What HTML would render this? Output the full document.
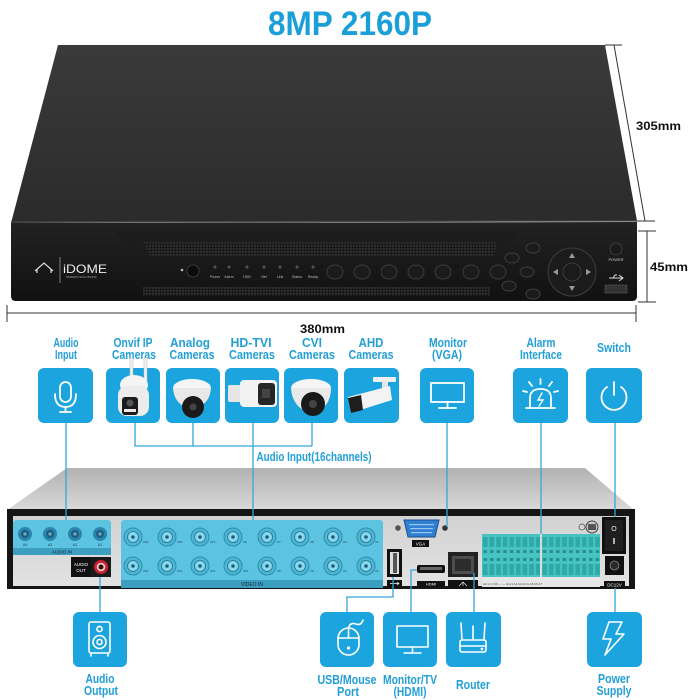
<!DOCTYPE html>
<html><head><meta charset="utf-8"><style>html,body{margin:0;padding:0;background:#fff;}svg{display:block}</style></head><body>
<svg width="700" height="700" viewBox="0 0 700 700" xmlns="http://www.w3.org/2000/svg" font-family="'Liberation Sans', sans-serif">
<defs>
<linearGradient id="gtop" x1="0" y1="0" x2="0" y2="1"><stop offset="0" stop-color="#3a3a3a"/><stop offset="1" stop-color="#2b2b2b"/></linearGradient>
<linearGradient id="gfront" x1="0" y1="0" x2="0" y2="1"><stop offset="0" stop-color="#222"/><stop offset="1" stop-color="#111"/></linearGradient>
<pattern id="vent" width="3" height="3" patternUnits="userSpaceOnUse"><rect width="3" height="3" fill="#2c2c2c"/><rect x="0.6" y="0.6" width="1.6" height="1.6" fill="#070707"/></pattern>
<linearGradient id="rtop" x1="0" y1="0" x2="0" y2="1"><stop offset="0" stop-color="#b2b2b2"/><stop offset="1" stop-color="#d9d9d9"/></linearGradient>
<linearGradient id="rface" x1="0" y1="0" x2="0" y2="1"><stop offset="0" stop-color="#d2d2d2"/><stop offset="1" stop-color="#e2e2e2"/></linearGradient>
<pattern id="tb" x="482" y="534" width="6.6" height="43" patternUnits="userSpaceOnUse">
<rect width="6.6" height="43" fill="#47c4c1"/>
<rect x="1" y="3" width="4.6" height="10" fill="#2fa9a8"/>
<rect x="1.5" y="16" width="3.4" height="3" fill="#25908f"/>
<rect x="1.5" y="24" width="3.4" height="3" fill="#25908f"/>
<rect x="1" y="30" width="4.6" height="11" fill="#2fa9a8"/>
</pattern>
</defs>

<!-- Title -->
<text x="350" y="35" text-anchor="middle" font-size="34" font-weight="bold" fill="#1a9fd8" textLength="164" lengthAdjust="spacingAndGlyphs">8MP 2160P</text>

<!-- FRONT DVR -->
<polygon points="58,45 605,45 637,221 11,223" fill="url(#gtop)"/>
<line x1="11" y1="222" x2="637" y2="221" stroke="#4a4a4a" stroke-width="1.2"/>
<path d="M11,223 L637,222 L637,296 Q637,301 632,301 L16,301 Q11,301 11,296 Z" fill="url(#gfront)"/>
<path d="M112,231 L520,231 L498,252 L140,252 Z" fill="#1c1c1c"/>
<polygon points="143,242 497,242 494,256 150,256" fill="url(#vent)"/>
<rect x="143" y="287" width="347" height="9" fill="url(#vent)"/>
<!-- logo -->
<path d="M35,271 L44,263 L53,271 M37,269 L37,273 M51,269 L51,273" stroke="#ddd" stroke-width="1.2" fill="none"/>
<line x1="60" y1="257" x2="60" y2="283" stroke="#999" stroke-width="0.8"/>
<text x="63" y="273" font-size="12" fill="#eee" textLength="44" lengthAdjust="spacingAndGlyphs">iDOME</text>
<text x="66" y="278" font-size="3" fill="#aaa">SMARTS SOLUTIONS</text>
<!-- IR & leds -->
<circle cx="182" cy="270" r="1.3" fill="#bbb"/>
<circle cx="193" cy="271" r="6" fill="#0b0b0b" stroke="#3a3a3a"/>
<g fill="#555"><circle cx="215" cy="267" r="1.5"/><circle cx="229" cy="267" r="1.5"/><circle cx="247" cy="267" r="1.5"/><circle cx="264" cy="267" r="1.5"/><circle cx="280" cy="267" r="1.5"/><circle cx="297" cy="267" r="1.5"/><circle cx="313" cy="267" r="1.5"/></g>
<g font-size="3.6" fill="#bbb" text-anchor="middle"><text x="215" y="278">Power</text><text x="229" y="278">Alarm</text><text x="247" y="278">HDD</text><text x="264" y="278">Net</text><text x="280" y="278">Link</text><text x="297" y="278">Status</text><text x="313" y="278">Ready</text></g>
<!-- buttons -->
<g fill="#1b1b1b" stroke="#3d3d3d" stroke-width="1">
<ellipse cx="335" cy="272" rx="8" ry="7"/><ellipse cx="362" cy="272" rx="8" ry="7"/><ellipse cx="389" cy="272" rx="8" ry="7"/><ellipse cx="416" cy="272" rx="8" ry="7"/><ellipse cx="443" cy="272" rx="8" ry="7"/><ellipse cx="471" cy="272" rx="8" ry="7"/><ellipse cx="498" cy="272" rx="8" ry="7"/>
<ellipse cx="533" cy="248" rx="7" ry="5"/><ellipse cx="512" cy="258" rx="7" ry="5"/><ellipse cx="527" cy="272" rx="7" ry="5"/><ellipse cx="509" cy="286" rx="7" ry="5"/><ellipse cx="533" cy="294" rx="7" ry="5"/>
<circle cx="572" cy="272" r="24"/>
<circle cx="572" cy="272" r="9"/>
<circle cx="616" cy="249" r="6"/>
</g>
<g fill="#999"><polygon points="572,253 569,258 575,258"/><polygon points="572,291 569,286 575,286"/><polygon points="553,272 558,269 558,275"/><polygon points="591,272 586,269 586,275"/></g>
<text x="616" y="261" font-size="4" fill="#ccc" text-anchor="middle">POWER</text>
<path d="M609,278 L623,278 M619,275 L623,278 L619,281 M613,278 L615,275 L617,275" stroke="#ddd" stroke-width="1" fill="none"/>
<rect x="605" y="285" width="22" height="8" fill="#333" stroke="#555" stroke-width="0.6"/>

<!-- dimension lines -->
<g stroke="#333" stroke-width="1" fill="none">
<line x1="614" y1="45" x2="645" y2="221"/><line x1="605" y1="45" x2="622" y2="45"/><line x1="636" y1="221" x2="655" y2="221"/>
<line x1="647" y1="231" x2="647" y2="302"/><line x1="638" y1="231" x2="656" y2="231"/><line x1="638" y1="302" x2="656" y2="302"/>
<line x1="7" y1="313" x2="636" y2="313"/><line x1="7" y1="305" x2="7" y2="322"/><line x1="636" y1="305" x2="636" y2="322"/>
</g>
<g font-size="12" font-weight="bold" fill="#111">
<text x="636" y="130" textLength="45" lengthAdjust="spacingAndGlyphs">305mm</text>
<text x="650" y="271" textLength="38" lengthAdjust="spacingAndGlyphs">45mm</text>
<text x="300" y="333" textLength="45" lengthAdjust="spacingAndGlyphs">380mm</text>
</g>

<!-- TOP LABELS -->
<g font-size="13" font-weight="bold" fill="#229fd6" text-anchor="middle">
<text x="66" y="347" textLength="25" lengthAdjust="spacingAndGlyphs">Audio</text>
<text x="66" y="359" textLength="22" lengthAdjust="spacingAndGlyphs">Input</text>
<text x="133" y="347" textLength="39" lengthAdjust="spacingAndGlyphs">Onvif IP</text>
<text x="134" y="359" textLength="44" lengthAdjust="spacingAndGlyphs">Cameras</text>
<text x="190" y="347" textLength="40" lengthAdjust="spacingAndGlyphs">Analog</text>
<text x="192" y="359" textLength="45" lengthAdjust="spacingAndGlyphs">Cameras</text>
<text x="251" y="347" textLength="41" lengthAdjust="spacingAndGlyphs">HD-TVI</text>
<text x="252" y="359" textLength="46" lengthAdjust="spacingAndGlyphs">Cameras</text>
<text x="312" y="347" textLength="20" lengthAdjust="spacingAndGlyphs">CVI</text>
<text x="312" y="359" textLength="46" lengthAdjust="spacingAndGlyphs">Cameras</text>
<text x="371" y="347" textLength="25" lengthAdjust="spacingAndGlyphs">AHD</text>
<text x="371" y="359" textLength="45" lengthAdjust="spacingAndGlyphs">Cameras</text>
<text x="448" y="347" textLength="38" lengthAdjust="spacingAndGlyphs">Monitor</text>
<text x="447" y="359" textLength="30" lengthAdjust="spacingAndGlyphs">(VGA)</text>
<text x="541" y="347" textLength="29" lengthAdjust="spacingAndGlyphs">Alarm</text>
<text x="541" y="359" textLength="42" lengthAdjust="spacingAndGlyphs">Interface</text>
<text x="614" y="352" textLength="34" lengthAdjust="spacingAndGlyphs">Switch</text>
<text x="314" y="461" textLength="115" lengthAdjust="spacingAndGlyphs">Audio Input(16channels)</text>
</g>

<!-- TOP BOXES -->
<g fill="#1ba4de">
<rect x="38" y="368" width="55" height="55" rx="6"/>
<rect x="106" y="368" width="54" height="55" rx="6"/>
<rect x="166" y="368" width="54" height="55" rx="6"/>
<rect x="225" y="368" width="54" height="55" rx="6"/>
<rect x="284" y="368" width="54" height="55" rx="6"/>
<rect x="344" y="368" width="55" height="55" rx="6"/>
<rect x="420" y="368" width="54" height="55" rx="6"/>
<rect x="513" y="368" width="55" height="55" rx="6"/>
<rect x="586" y="368" width="56" height="55" rx="6"/>
</g>
<g stroke="#fff" stroke-width="1.8" fill="none" stroke-linecap="round">
<!-- mic -->
<rect x="60" y="382" width="11" height="20" rx="5.5"/>
<path d="M55,394 Q55,407 65.5,407 Q76,407 76,394"/>
<line x1="65.5" y1="407" x2="65.5" y2="412"/><line x1="60" y1="412" x2="71" y2="412"/>
<!-- monitor vga -->
<rect x="431" y="383" width="33" height="19"/>
<line x1="447.5" y1="402" x2="447.5" y2="408"/><line x1="439" y1="408" x2="456" y2="408"/>
<!-- alarm -->
<path d="M530,408 L530,398 Q530,389 540.5,389 Q551,389 551,398 L551,408"/>
<line x1="526" y1="408" x2="555" y2="408"/>
<line x1="540.5" y1="379" x2="540.5" y2="384"/><line x1="529" y1="382" x2="532" y2="386"/><line x1="552" y1="382" x2="549" y2="386"/><line x1="523" y1="391" x2="527" y2="392"/><line x1="558" y1="391" x2="554" y2="392"/>
<polyline points="542,393 538,400 543,400 539,406" stroke-width="1.4"/>
<!-- power -->
<path d="M607,387 A12.5,12.5 0 1 0 621,387"/>
<line x1="614" y1="382" x2="614" y2="395"/>
</g>

<!-- camera drawings -->
<!-- onvif -->
<rect x="130" y="358" width="3" height="28" fill="#f2f2f2" stroke="#bbb" stroke-width="0.5"/>
<rect x="144" y="358" width="3" height="30" fill="#f2f2f2" stroke="#bbb" stroke-width="0.5"/>
<ellipse cx="134" cy="385" rx="14" ry="10" fill="#f4f4f4"/>
<rect x="118" y="386" width="31" height="30" rx="9" fill="#ececec"/>
<rect x="122" y="397" width="16" height="18" rx="3" fill="#1c1c1c"/>
<circle cx="130" cy="403" r="3.5" fill="#555"/><rect x="124" y="409" width="12" height="3" fill="#e8e8e8"/>
<!-- analog dome -->
<ellipse cx="192" cy="388" rx="19" ry="9" fill="#f5f5f5"/>
<path d="M173,388 Q174,405 192,410 Q210,405 211,388 Z" fill="#e8e8e8"/>
<circle cx="193" cy="407" r="11" fill="#1a1a1a"/><circle cx="193" cy="407" r="3.5" fill="#444"/>
<!-- hd-tvi bullet -->
<rect x="228" y="385" width="15" height="17" rx="2" fill="#e6e6e6"/>
<rect x="240" y="380" width="37" height="27" rx="4" fill="#f2f2f2"/>
<rect x="258" y="383" width="17" height="22" rx="3" fill="#262626"/>
<rect x="262" y="389" width="8" height="9" fill="#444"/>
<!-- cvi dome -->
<ellipse cx="311" cy="388" rx="20" ry="9" fill="#f5f5f5"/>
<path d="M291,388 Q292,408 312,414 Q331,408 331,388 Z" fill="#e9e9e9"/>
<circle cx="313" cy="404" r="12" fill="#1a1a1a"/><circle cx="313" cy="404" r="4" fill="#444"/>
<!-- ahd bullet -->
<rect x="373" y="377" width="23" height="5" rx="1" fill="#f0f0f0"/>
<rect x="382" y="381" width="6" height="12" fill="#e6e6e6"/>
<polygon points="348,397 390,386 392,400 351,413" fill="#f3f3f3"/>
<polygon points="348,398 361,395 363,410 351,413" fill="#1e1e1e"/>

<!-- REAR DVR -->
<polygon points="67,468 585,468 634,510 7,510" fill="url(#rtop)"/>
<rect x="7" y="509" width="628" height="80" fill="#151515"/>
<rect x="13" y="516" width="616" height="70" fill="url(#rface)"/>
<!-- audio in -->
<rect x="13" y="520" width="98" height="35" rx="3" fill="#5cc4e0"/>
<rect x="13" y="548" width="98" height="7" fill="#3d9fc0"/>
<text x="62" y="553.5" font-size="4.5" fill="#123" text-anchor="middle">AUDIO    IN</text>
<g>
<circle cx="25" cy="534" r="7" fill="#2a86ad"/><circle cx="25" cy="534" r="4" fill="#1c5f85"/><circle cx="25" cy="534" r="1.6" fill="#7ab"/>
<circle cx="50" cy="534" r="7" fill="#2a86ad"/><circle cx="50" cy="534" r="4" fill="#1c5f85"/><circle cx="50" cy="534" r="1.6" fill="#7ab"/>
<circle cx="75" cy="534" r="7" fill="#2a86ad"/><circle cx="75" cy="534" r="4" fill="#1c5f85"/><circle cx="75" cy="534" r="1.6" fill="#7ab"/>
<circle cx="100" cy="534" r="7" fill="#2a86ad"/><circle cx="100" cy="534" r="4" fill="#1c5f85"/><circle cx="100" cy="534" r="1.6" fill="#7ab"/>
</g>
<g font-size="3.5" fill="#235" text-anchor="middle"><text x="25" y="546">A4</text><text x="50" y="546">A3</text><text x="75" y="546">A2</text><text x="100" y="546">A1</text></g>
<!-- audio out -->
<rect x="71" y="557" width="20" height="20" fill="#111"/>
<text x="81" y="566" font-size="4.5" fill="#fff" text-anchor="middle">AUDIO</text>
<text x="81" y="572" font-size="4.5" fill="#fff" text-anchor="middle">OUT</text>
<rect x="91" y="557" width="20" height="20" fill="#1a1a1a"/>
<circle cx="101" cy="567" r="7" fill="#c8202e"/><circle cx="101" cy="567" r="4.3" fill="#f0d0d0"/><circle cx="101" cy="567" r="2.5" fill="#3a0a0a"/>
<!-- video in -->
<rect x="121" y="520" width="262" height="68" rx="3" fill="#5cc4e0"/>
<rect x="121" y="580" width="262" height="8" fill="#3d9fc0"/>
<text x="252" y="586" font-size="5" fill="#123" text-anchor="middle">VIDEO      IN</text>
<g fill="#4cb6d3" stroke="#2d8eb0" stroke-width="1">
<circle cx="133" cy="537" r="9"/><circle cx="167" cy="537" r="9"/><circle cx="200" cy="537" r="9"/><circle cx="233" cy="537" r="9"/><circle cx="267" cy="537" r="9"/><circle cx="300" cy="537" r="9"/><circle cx="333" cy="537" r="9"/><circle cx="366" cy="537" r="9"/>
<circle cx="133" cy="566" r="9"/><circle cx="167" cy="566" r="9"/><circle cx="200" cy="566" r="9"/><circle cx="233" cy="566" r="9"/><circle cx="267" cy="566" r="9"/><circle cx="300" cy="566" r="9"/><circle cx="333" cy="566" r="9"/><circle cx="366" cy="566" r="9"/>
</g>
<g fill="#8ad8ec" stroke="#2a7fa0" stroke-width="1">
<circle cx="133" cy="537" r="5.5"/><circle cx="167" cy="537" r="5.5"/><circle cx="200" cy="537" r="5.5"/><circle cx="233" cy="537" r="5.5"/><circle cx="267" cy="537" r="5.5"/><circle cx="300" cy="537" r="5.5"/><circle cx="333" cy="537" r="5.5"/><circle cx="366" cy="537" r="5.5"/>
<circle cx="133" cy="566" r="5.5"/><circle cx="167" cy="566" r="5.5"/><circle cx="200" cy="566" r="5.5"/><circle cx="233" cy="566" r="5.5"/><circle cx="267" cy="566" r="5.5"/><circle cx="300" cy="566" r="5.5"/><circle cx="333" cy="566" r="5.5"/><circle cx="366" cy="566" r="5.5"/>
</g>
<g fill="#1a5f80">
<circle cx="133" cy="537" r="1.8"/><circle cx="167" cy="537" r="1.8"/><circle cx="200" cy="537" r="1.8"/><circle cx="233" cy="537" r="1.8"/><circle cx="267" cy="537" r="1.8"/><circle cx="300" cy="537" r="1.8"/><circle cx="333" cy="537" r="1.8"/><circle cx="366" cy="537" r="1.8"/>
<circle cx="133" cy="566" r="1.8"/><circle cx="167" cy="566" r="1.8"/><circle cx="200" cy="566" r="1.8"/><circle cx="233" cy="566" r="1.8"/><circle cx="267" cy="566" r="1.8"/><circle cx="300" cy="566" r="1.8"/><circle cx="333" cy="566" r="1.8"/><circle cx="366" cy="566" r="1.8"/>
</g>
<g font-size="3" fill="#235">
<text x="143" y="543">V16</text><text x="177" y="543">V15</text><text x="210" y="543">V13</text><text x="243" y="543">V9</text><text x="277" y="543">V7</text><text x="310" y="543">V5</text><text x="343" y="543">V3</text><text x="375" y="543">V1</text>
<text x="143" y="572">V16</text><text x="177" y="572">V14</text><text x="210" y="572">V12</text><text x="243" y="572">V10</text><text x="277" y="572">V8</text><text x="310" y="572">V6</text><text x="343" y="572">V4</text><text x="375" y="572">V2</text>
</g>
<!-- VGA -->
<circle cx="398" cy="528" r="2.8" fill="#555"/><circle cx="445" cy="528" r="2.8" fill="#333"/>
<polygon points="404,520 439,520 435,537 408,537" fill="#2f7fd2" stroke="#1b4d8e" stroke-width="1"/>
<g fill="#9cc6f0"><rect x="409" y="524" width="25" height="1.2"/><rect x="410" y="528" width="23" height="1.2"/><rect x="411" y="532" width="21" height="1.2"/></g>
<rect x="412" y="540" width="17" height="7" fill="#111"/>
<text x="420.5" y="545.5" font-size="4.5" fill="#fff" text-anchor="middle">VGA</text>
<!-- USB -->
<rect x="387" y="549" width="15" height="28" fill="#111"/>
<rect x="390" y="552" width="9" height="22" fill="#ddd"/><rect x="393" y="553" width="4" height="20" fill="#555"/>
<rect x="387" y="580" width="15" height="7" fill="#111"/>
<path d="M390,583.5 L399,583.5 M397,582 L399,583.5 L397,585" stroke="#fff" stroke-width="0.7" fill="none"/>
<!-- HDMI -->
<rect x="417" y="565" width="28" height="8" rx="2" fill="#111"/>
<rect x="420" y="567" width="22" height="3" fill="#666"/>
<rect x="417" y="581" width="28" height="6" fill="#111"/>
<text x="431" y="585.6" font-size="4" fill="#fff" text-anchor="middle">HDMI</text>
<!-- RJ45 -->
<rect x="448" y="552" width="30" height="25" fill="#222"/>
<rect x="452" y="556" width="22" height="18" fill="#4e4e4e"/><rect x="455" y="559" width="16" height="12" fill="#2c2c2c"/>
<rect x="448" y="580" width="30" height="8" fill="#111"/>
<path d="M459,586 L463,582 L467,586 M463,582 L463,586" stroke="#fff" stroke-width="0.6" fill="none"/>
<!-- terminal blocks -->
<rect x="482" y="534" width="58" height="43" fill="url(#tb)"/>
<rect x="542" y="534" width="58" height="43" fill="url(#tb)"/>
<rect x="482" y="577" width="118" height="10" fill="#e6e6e6"/>
<g font-size="3" fill="#444"><text x="483" y="585">A1  G  C  N0  —  —  ⊕  A1 A2 A3 A4 G A5 A6 A7</text></g>
<!-- ground screw -->
<circle cx="582" cy="527" r="3" fill="none" stroke="#555" stroke-width="0.8"/>
<circle cx="592" cy="527" r="6" fill="#c9c9c9" stroke="#444" stroke-width="1"/>
<rect x="588" y="524" width="8" height="6" fill="#555"/>
<!-- power switch -->
<rect x="602" y="517" width="24" height="37" fill="#111"/>
<rect x="605" y="520" width="18" height="31" fill="#1f1f1f"/>
<text x="614" y="531" font-size="7" fill="#eee" text-anchor="middle">O</text>
<rect x="613.3" y="538" width="1.4" height="6" fill="#eee"/>
<!-- DC jack -->
<rect x="605" y="556" width="19" height="19" fill="#111"/>
<circle cx="614.5" cy="565.5" r="4.5" fill="#2a2a2a" stroke="#888" stroke-width="0.8"/>
<rect x="604" y="581" width="21" height="7" fill="#111"/>
<text x="614.5" y="586.5" font-size="4.5" fill="#fff" text-anchor="middle">DC12V</text>

<!-- CONNECTOR LINES -->
<g stroke="#36a6d6" stroke-width="1.3" fill="none">
<line x1="66" y1="423" x2="66" y2="520"/>
<polyline points="135,423 135,446 312,446"/>
<line x1="193" y1="423" x2="193" y2="446"/>
<line x1="312" y1="423" x2="312" y2="446"/>
<line x1="253" y1="423" x2="253" y2="520"/>
<line x1="447" y1="423" x2="447" y2="527"/>
<line x1="541" y1="423" x2="541" y2="534"/>
<line x1="615" y1="423" x2="615" y2="517"/>
<line x1="100" y1="577" x2="100" y2="612"/>
<polyline points="393,577 393,597 347,597 347,612"/>
<polyline points="417,570 411,570 411,612"/>
<line x1="474" y1="573" x2="474" y2="612"/>
<line x1="615" y1="588" x2="615" y2="612"/>
</g>

<!-- BOTTOM BOXES -->
<g fill="#1ba4de">
<rect x="73" y="612" width="54" height="55" rx="6"/>
<rect x="320" y="612" width="54" height="55" rx="6"/>
<rect x="383" y="612" width="54" height="55" rx="6"/>
<rect x="446" y="612" width="55" height="55" rx="6"/>
<rect x="587" y="612" width="55" height="55" rx="6"/>
</g>
<g stroke="#fff" stroke-width="1.6" fill="none" stroke-linecap="round" stroke-linejoin="round">
<!-- speaker -->
<rect x="89" y="622" width="21" height="31" rx="2"/>
<circle cx="99.5" cy="629" r="2.6"/><circle cx="99.5" cy="642" r="6.5"/><circle cx="99.5" cy="642" r="2.5"/>
<line x1="91" y1="653" x2="91" y2="656"/><line x1="108" y1="653" x2="108" y2="656"/>
<!-- mouse -->
<rect x="338" y="628" width="21" height="27" rx="10.5"/>
<line x1="348.5" y1="628" x2="348.5" y2="638"/><line x1="338" y1="638" x2="359" y2="638"/>
<path d="M348.5,628 Q350,622 356,624 Q361,626 363,620"/>
<circle cx="348.5" cy="648" r="0.8" fill="#fff"/>
<!-- monitor hdmi -->
<rect x="397" y="626" width="31" height="21"/>
<line x1="412.5" y1="647" x2="412.5" y2="653"/><line x1="404" y1="653" x2="421" y2="653"/>
<!-- router -->
<rect x="460" y="640" width="26" height="12" rx="2"/>
<line x1="460" y1="646" x2="486" y2="646"/>
<line x1="462" y1="640" x2="461" y2="623"/><line x1="473" y1="640" x2="473" y2="626"/><line x1="484" y1="640" x2="485" y2="623"/>
<circle cx="482" cy="649" r="0.6" fill="#fff"/>
<!-- bolt -->
<path d="M609,622 L622,622 L616,634 L624,634 L605,655 L611,639 L603,639 Z"/>
</g>

<!-- BOTTOM LABELS -->
<g font-size="13" font-weight="bold" fill="#229fd6" text-anchor="middle">
<text x="100" y="683" textLength="29" lengthAdjust="spacingAndGlyphs">Audio</text>
<text x="101" y="695" textLength="34" lengthAdjust="spacingAndGlyphs">Output</text>
<text x="347" y="684" textLength="59" lengthAdjust="spacingAndGlyphs">USB/Mouse</text>
<text x="348" y="696" textLength="22" lengthAdjust="spacingAndGlyphs">Port</text>
<text x="410" y="684" textLength="54" lengthAdjust="spacingAndGlyphs">Monitor/TV</text>
<text x="410" y="696" textLength="33" lengthAdjust="spacingAndGlyphs">(HDMI)</text>
<text x="473" y="689" textLength="34" lengthAdjust="spacingAndGlyphs">Router</text>
<text x="614" y="683" textLength="32" lengthAdjust="spacingAndGlyphs">Power</text>
<text x="614" y="695" textLength="35" lengthAdjust="spacingAndGlyphs">Supply</text>
</g>
</svg>
</body></html>
